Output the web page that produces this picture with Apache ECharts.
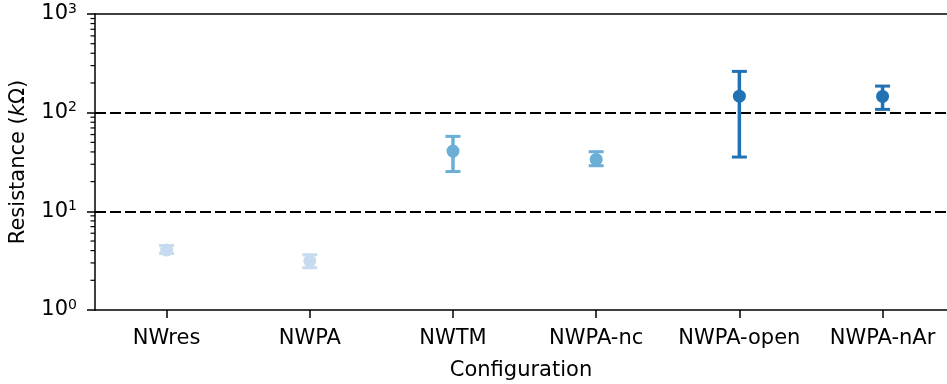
<!DOCTYPE html>
<html>
<head>
<meta charset="utf-8">
<script src="https://cdn.jsdelivr.net/npm/echarts@6/dist/echarts.min.js"></script>
<style>
html,body{margin:0;padding:0;background:#fff;}
#chart{width:947px;height:384px;}
</style>
</head>
<body>
<div id="chart"></div>
<script>
const categories = ['NWres', 'NWPA', 'NWTM', 'NWPA-nc', 'NWPA-open', 'NWPA-nAr'];
const means = [4.05, 3.14, 40.8, 33.6, 147, 146];
const lower = [3.74, 2.68, 25.3, 29.0, 35.5, 108];
const upper = [4.5, 3.63, 57.5, 40.2, 262, 186];
const colors = ['#c6dbef', '#c6dbef', '#6baed6', '#6baed6', '#2171b5', '#2171b5'];
const refLines = [10, 100];
const minorTicks = [2, 3, 4, 5, 6, 7, 8, 9, 20, 30, 40, 50, 60, 70, 80, 90, 200, 300, 400, 500, 600, 700, 800, 900];
const yMin = 1, yMax = 1000;
const xMin = -0.5, xMax = 5.45;
const catPositions = categories.map((c, i) => i);

const FONT = 'DejaVu Sans';
const chart = echarts.init(document.getElementById('chart'), null, {renderer: 'canvas'});

const option = {
  animation: false,
  backgroundColor: '#fff',
  textStyle: {fontFamily: FONT},
  grid: {left: 95, top: 14, right: 0, bottom: 74, show: false, outerBoundsMode: 'none', containLabel: false},
  xAxis: [{
    type: 'value',
    min: xMin,
    max: xMax,
    name: 'Configuration',
    nameLocation: 'middle',
    nameGap: 50,
    nameTextStyle: {fontFamily: FONT, fontSize: 21, color: '#000'},
    axisLine: {show: true, onZero: false, lineStyle: {color: '#000', width: 1.5}},
    axisTick: {show: true, customValues: catPositions, length: 8, lineStyle: {color: '#000', width: 1.5}},
    axisLabel: {
      customValues: catPositions,
      fontFamily: FONT, fontSize: 21, color: '#000', margin: 18,
      showMinLabel: true, showMaxLabel: true,
      formatter: function (v) { return categories[Math.round(v)] || ''; }
    },
    splitLine: {show: false}
  }, {
    type: 'value',
    position: 'top',
    min: xMin,
    max: xMax,
    axisLine: {show: true, onZero: false, lineStyle: {color: '#000', width: 1.5}},
    axisTick: {show: false},
    axisLabel: {show: false},
    splitLine: {show: false}
  }],
  yAxis: {
    type: 'log',
    logBase: 10,
    min: yMin,
    max: yMax,
    name: '{n|Resistance (}{i|k}{n|Ω)}',
    nameLocation: 'middle',
    nameGap: 66,
    nameTextStyle: {
      fontFamily: FONT, fontSize: 21, color: '#000',
      rich: {
        n: {fontFamily: FONT, fontSize: 21, color: '#000'},
        i: {fontFamily: FONT, fontSize: 21, color: '#000', fontStyle: 'italic'}
      }
    },
    axisLine: {show: true, onZero: false, lineStyle: {color: '#000', width: 1.5}},
    axisTick: {show: true, length: 8, lineStyle: {color: '#000', width: 1.5}},
    splitLine: {show: false},
    axisLabel: {
      margin: 18,
      formatter: function (v) {
        const e = Math.round(Math.log10(v));
        return '{b|10}{s|' + e + '}';
      },
      rich: {
        b: {fontFamily: FONT, fontSize: 21, color: '#000', lineHeight: 24},
        s: {fontFamily: FONT, fontSize: 14, color: '#000', lineHeight: 14, verticalAlign: 'top'}
      }
    }
  },
  series: [
    {
      type: 'line',
      data: [],
      silent: true,
      z: 1,
      markLine: {
        silent: true,
        symbol: ['none', 'none'],
        label: {show: false},
        lineStyle: {color: '#000', width: 2.2, type: [11, 4]},
        data: refLines.map(v => ({yAxis: v}))
      }
    },
    {
      type: 'custom',
      silent: true,
      clip: false,
      z: 3,
      data: minorTicks.map(v => [0, v]),
      encode: {x: 0, y: 1},
      renderItem: function (params, api) {
        const p = api.coord([0, api.value(1)]);
        const x0 = params.coordSys.x;
        return {
          type: 'line',
          shape: {x1: x0 - 4.5, y1: p[1], x2: x0, y2: p[1]},
          style: {stroke: '#000', lineWidth: 1.2}
        };
      }
    },
    {
      type: 'custom',
      silent: true,
      z: 5,
      data: categories.map((c, i) => [i, means[i], lower[i], upper[i]]),
      encode: {x: 0, y: [1, 2, 3]},
      renderItem: function (params, api) {
        const xi = api.value(0);
        const m = api.coord([xi, api.value(1)]);
        const lo = api.coord([xi, api.value(2)]);
        const hi = api.coord([xi, api.value(3)]);
        const color = colors[params.dataIndex];
        const cw = 7.5;
        return {
          type: 'group',
          children: [
            {type: 'line', shape: {x1: m[0], y1: hi[1], x2: m[0], y2: lo[1]}, style: {stroke: color, lineWidth: 3.5}},
            {type: 'line', shape: {x1: m[0] - cw, y1: hi[1], x2: m[0] + cw, y2: hi[1]}, style: {stroke: color, lineWidth: 3}},
            {type: 'line', shape: {x1: m[0] - cw, y1: lo[1], x2: m[0] + cw, y2: lo[1]}, style: {stroke: color, lineWidth: 3}},
            {type: 'circle', shape: {cx: m[0], cy: m[1], r: 6.5}, style: {fill: color}}
          ]
        };
      }
    }
  ]
};
chart.setOption(option);
</script>
</body>
</html>
